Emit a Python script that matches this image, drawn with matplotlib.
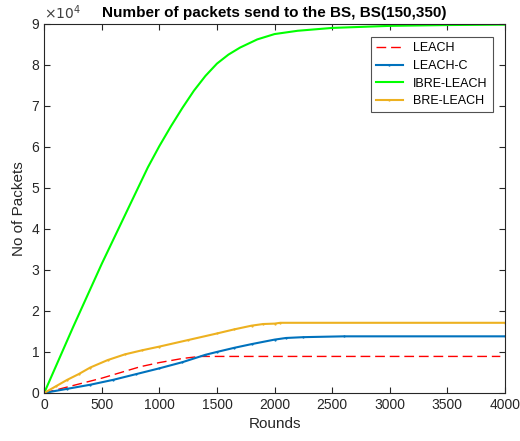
import matplotlib
matplotlib.use('Agg')
import matplotlib.pyplot as plt

plt.rcParams['font.family'] = ['Liberation Sans', 'DejaVu Sans']

# Data (packets in units of 1e4)
rounds_green = [0, 250, 500, 750, 900, 1000, 1100, 1200, 1300, 1400, 1500, 1600, 1700,
                1850, 2000, 2200, 2500, 3000, 3500, 4000]
ibre_leach = [0, 1.6, 3.15, 4.62, 5.5, 6.02, 6.5, 6.95, 7.37, 7.73, 8.03, 8.25, 8.42,
              8.62, 8.75, 8.83, 8.9, 8.95, 8.97, 8.98]

rounds_orange = [0, 100, 200, 300, 400, 550, 700, 850, 1000, 1250, 1500, 1650, 1800, 1900,
                 2000, 2050, 4000]
bre_leach = [0, 0.16, 0.32, 0.46, 0.62, 0.8, 0.94, 1.04, 1.13, 1.29, 1.45, 1.55, 1.64, 1.68,
             1.69, 1.71, 1.71]

rounds_blue = [0, 200, 400, 600, 800, 1000, 1200, 1400, 1500, 1650, 1800, 2000, 2100, 2250,
               2600, 4000]
leach_c = [0, 0.1, 0.2, 0.32, 0.46, 0.6, 0.75, 0.93, 1.0, 1.1, 1.19, 1.3, 1.34, 1.36,
           1.38, 1.38]

rounds_red = [0, 250, 500, 835, 1000, 1200, 1350, 3960]
leach = [0, 0.18, 0.36, 0.64, 0.74, 0.84, 0.89, 0.89]

fig = plt.figure(figsize=(5.2, 4.41), dpi=100)
ax = fig.add_axes([0.085, 0.109, 0.886, 0.837])

ax.plot(rounds_red, [v * 1e4 for v in leach], color='#FF0000', linewidth=1.0,
        dashes=(7, 3.5), label='LEACH')
ax.plot(rounds_blue, [v * 1e4 for v in leach_c], '-', color='#0072BD', linewidth=1.5,
        marker='.', markersize=1.2, label='LEACH-C')
ax.plot(rounds_green, [v * 1e4 for v in ibre_leach], '-', color='#00FF00', linewidth=1.5,
        label='IBRE-LEACH')
ax.plot(rounds_orange, [v * 1e4 for v in bre_leach], '-', color='#EDB120', linewidth=1.5,
        marker='.', markersize=1.2, label='BRE-LEACH')

ax.set_xlim(0, 4000)
ax.set_ylim(0, 9e4)
ax.set_xticks(range(0, 4001, 500))
ax.set_yticks([i * 1e4 for i in range(10)])
ax.set_yticklabels([str(i) for i in range(10)])
ax.text(0, 1.005, r'$\times10^4$', transform=ax.transAxes, ha='left', va='bottom',
        fontsize=10, color='#404040')

ax.tick_params(direction='in', top=True, right=True, labelsize=10, colors='#262626', length=4)
for s in ax.spines.values():
    s.set_color('#262626')
    s.set_linewidth(0.8)

ax.set_title('Number of packets send to the BS, BS(150,350)', fontsize=11, fontweight='bold', pad=5)
ax.set_xlabel('Rounds', fontsize=11, color='#262626')
ax.set_ylabel('No of Packets', fontsize=11, color='#262626')

leg = ax.legend(loc='upper right', bbox_to_anchor=(0.987, 0.98), fontsize=9, frameon=True,
                fancybox=False, edgecolor='#262626', handlelength=2.2, borderpad=0.4,
                labelspacing=0.45)
leg.get_frame().set_linewidth(0.8)

plt.savefig('out.png', dpi=100, facecolor='white')
